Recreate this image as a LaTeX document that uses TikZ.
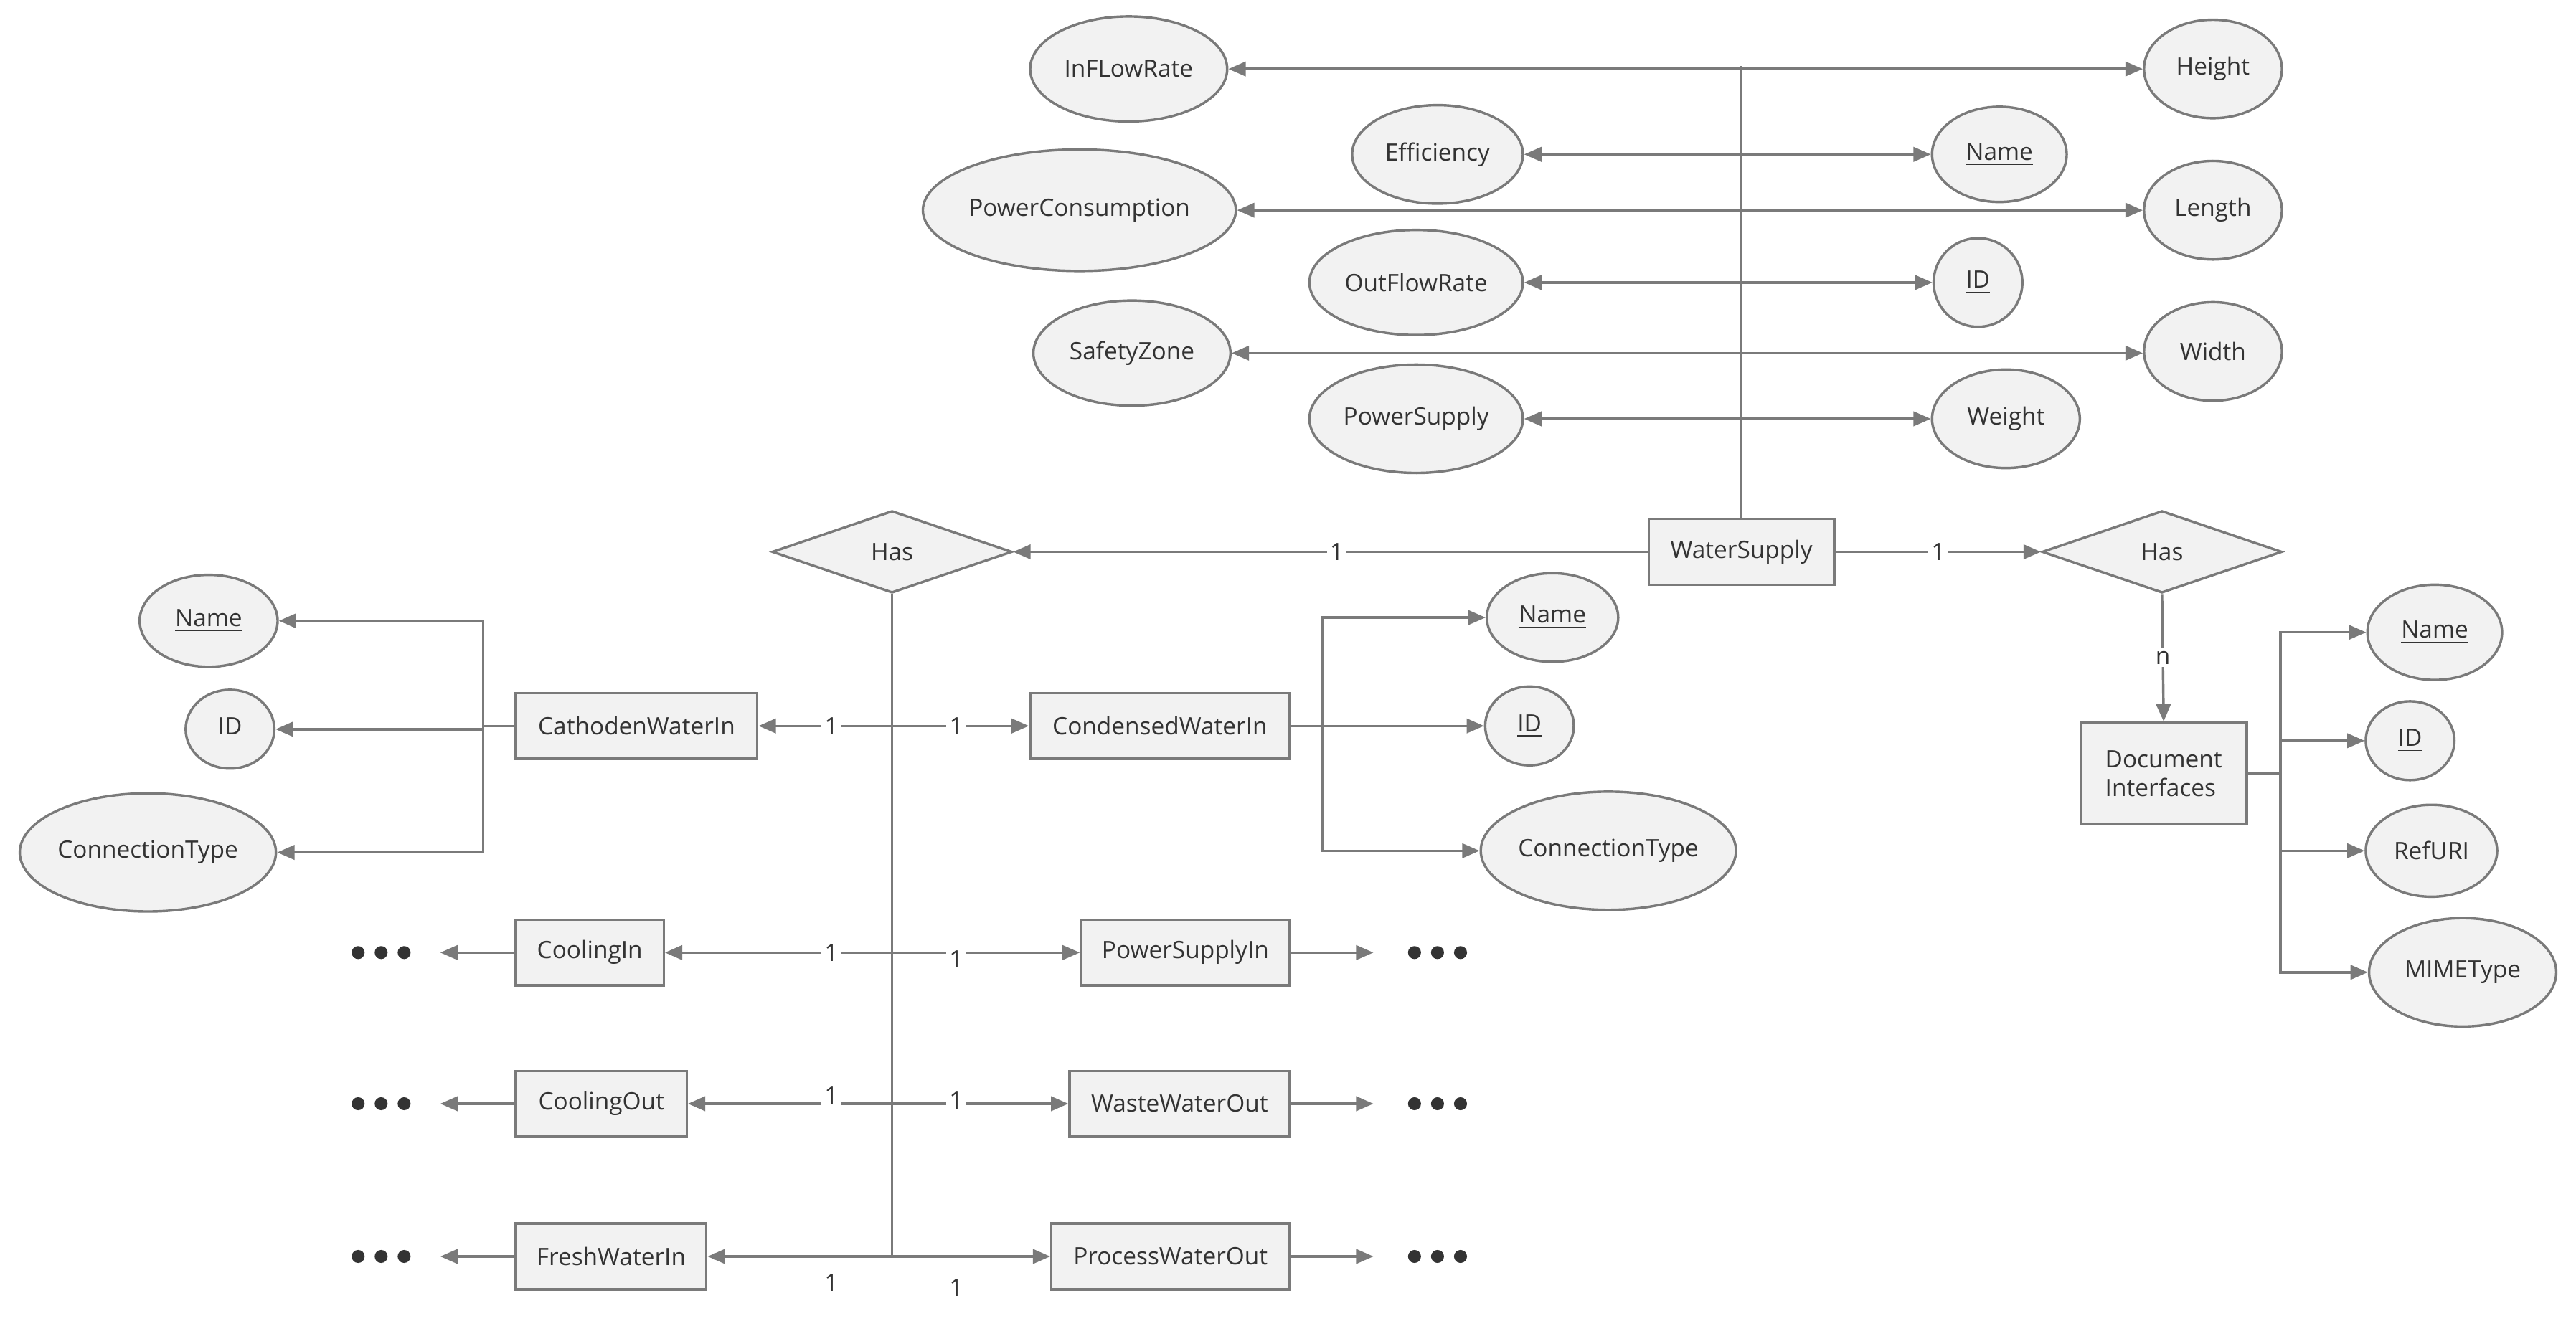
\documentclass[tikz,border=0pt]{standalone}
\usepackage{fontspec}
\setmainfont{Open Sans}
\usetikzlibrary{shapes.geometric,arrows.meta}
\definecolor{ln}{HTML}{7A7A7A}
\definecolor{fl}{HTML}{F2F2F2}
\definecolor{tx}{HTML}{333333}
\begin{document}
\begin{tikzpicture}[x=0.02cm,y=-0.02cm,
  font=\fontsize{8.3}{10}\selectfont, text=tx,
  c/.style={draw=ln,line width=0.85pt},
  >={Triangle[length=6pt,width=5pt,fill=ln]},
  ell/.style 2 args={ellipse,draw=ln,fill=fl,line width=0.85pt,inner sep=0pt,minimum width=#1*0.04cm,minimum height=#2*0.04cm},
  box/.style={rectangle,draw=ln,fill=fl,line width=0.85pt,inner sep=0pt,minimum height=0.8cm},
  dia/.style={diamond,draw=ln,fill=fl,line width=0.85pt,inner sep=0pt,aspect=2.9,minimum width=2.92cm,minimum height=1.0cm},
  lbl/.style={fill=white,inner sep=1pt},
  dot/.style={circle,fill=tx,draw=none,inner sep=0pt,minimum size=4.5pt}]
\useasboundingbox (0,0) rectangle (1568,807);
% top attributes
\node[ell={60}{32}] (infl) at (687,42) {InFLowRate};
\node[ell={52}{30}] (eff) at (875,94) {Efficiency};
\node[ell={91}{37}] (pc) at (657,128) {PowerConsumption};
\node[ell={65}{32}] (ofr) at (862,172) {OutFlowRate};
\node[ell={60}{32}] (sz) at (689,215) {SafetyZone};
\node[ell={65}{33}] (ps) at (862,255) {PowerSupply};
\node[ell={42}{30}] (hei) at (1347,42) {Height};
\node[ell={41}{29}] (nm) at (1217,94) {\underline{Name}};
\node[ell={42}{30}] (len) at (1347,128) {Length};
\node[ell={27}{27}] (id) at (1204,172) {\underline{ID}};
\node[ell={42}{30}] (wid) at (1347,214) {Width};
\node[ell={45}{30}] (wei) at (1221,255) {Weight};
% water supply
\node[box,minimum width=2.26cm] (ws) at (1060,336) {WaterSupply};
\coordinate (top) at (1060,40);
\draw[c] (ws.north) -- (top);
\draw[c,<->] (infl.east) -- (infl.east -| hei.west);
\draw[c,<->] (eff.east) -- (eff.east -| nm.west);
\draw[c,<->] (pc.east) -- (pc.east -| len.west);
\draw[c,<->] (ofr.east) -- (ofr.east -| id.west);
\draw[c,<->] (sz.east) -- (sz.east -| wid.west);
\draw[c,<->] (ps.east) -- (ps.east -| wei.west);
% has diamonds
\node[dia] (hasl) at (543,336) {Has};
\node[dia] (hasr) at (1316,336) {Has};
\draw[c,->] (ws.west) -- node[lbl,pos=0.49]{1} (hasl.east);
\draw[c,->] (ws.east) -- node[lbl,pos=0.5]{1} (hasr.west);
\node[box,minimum width=2.02cm,minimum height=1.24cm,align=left] (doc) at (1317,471) {Document\\Interfaces};
\draw[c,->] (hasr.south) -- node[lbl,pos=0.5]{n} (doc.north);
% doc attributes
\node[ell={41}{29}] (dn) at (1482,385) {\underline{Name}};
\node[ell={27}{24}] (did) at (1467,451) {\underline{ID}};
\node[ell={40}{28}] (dr) at (1480,518) {RefURI};
\node[ell={57}{33}] (dm) at (1499,592) {MIMEType};
\coordinate (db) at (1388,471);
\draw[c] (doc.east) -- (db);
\draw[c,->] (db) |- (dn.west);
\draw[c,->] (db) |- (did.west);
\draw[c,->] (db) |- (dr.west);
\draw[c,->] (db) |- (dm.west);
% left tree
\coordinate (bot) at (543,765);
\draw[c] (hasl.south) -- (bot);
\node[box,minimum width=2.94cm] (cw) at (387.5,442) {CathodenWaterIn};
\node[box,minimum width=3.16cm] (cdw) at (706,442) {CondensedWaterIn};
\node[box,minimum width=1.8cm] (ci) at (359,580) {CoolingIn};
\node[box,minimum width=2.54cm] (psi) at (721.5,580) {PowerSupplyIn};
\node[box,minimum width=2.08cm] (co) at (366,672) {CoolingOut};
\node[box,minimum width=2.68cm] (wwo) at (718,672) {WasteWaterOut};
\node[box,minimum width=2.32cm] (fwi) at (372,765) {FreshWaterIn};
\node[box,minimum width=2.9cm] (pwo) at (712.5,765) {ProcessWaterOut};
\coordinate (j1) at (543,442);
\coordinate (j2) at (543,580);
\coordinate (j3) at (543,672);
\draw[c,->] (j1) -- (cw.east); \draw[c,->] (j1) -- (cdw.west);
\draw[c,->] (j2) -- (ci.east); \draw[c,->] (j2) -- (psi.west);
\draw[c,->] (j3) -- (co.east); \draw[c,->] (j3) -- (wwo.west);
\draw[c,->] (bot) -- (fwi.east); \draw[c,->] (bot) -- (pwo.west);
\node[lbl] at (506,442) {1}; \node[lbl] at (582,442) {1};
\node[lbl] at (506,580) {1}; \node[lbl] at (582,584) {1};
\node[lbl] at (506,667) {1}; \node[lbl] at (582,670) {1};
\node at (506,781) {1}; \node at (582,784) {1};
% cathoden attrs
\node[ell={42}{28}] (cn) at (127,378) {\underline{Name}};
\node[ell={27}{24}] (cid) at (140,444) {\underline{ID}};
\node[ell={78}{36}] (cct) at (90,519) {ConnectionType};
\coordinate (cb) at (294,442);
\draw[c] (cw.west) -- (cb);
\draw[c,->] (cb) |- (cn.east);
\draw[c,->] (cb) |- (cid.east);
\draw[c,->] (cb) |- (cct.east);
% condensed attrs
\node[ell={40}{27}] (kn) at (945,376) {\underline{Name}};
\node[ell={27}{24}] (kid) at (931,442) {\underline{ID}};
\node[ell={77}{36}] (kct) at (979,518) {ConnectionType};
\coordinate (kb) at (805,442);
\draw[c] (cdw.east) -- (kb);
\draw[c,->] (kb) |- (kn.west);
\draw[c,->] (kb) |- (kid.west);
\draw[c,->] (kb) |- (kct.west);
% dots
\foreach \y/\n in {580/a,672/b,765/c}{
  \node[dot] at (218,\y) {}; \node[dot] at (232,\y) {}; \node[dot] (l\n) at (246,\y) {};
  \node[dot] (r\n) at (861,\y) {}; \node[dot] at (875,\y) {}; \node[dot] at (889,\y) {};
  \coordinate (lt\n) at (268,\y); \coordinate (rt\n) at (836,\y);
}
\draw[c,->] (ci.west) -- (lta); \draw[c,->] (psi.east) -- (rta);
\draw[c,->] (co.west) -- (ltb); \draw[c,->] (wwo.east) -- (rtb);
\draw[c,->] (fwi.west) -- (ltc); \draw[c,->] (pwo.east) -- (rtc);
\end{tikzpicture}
\end{document}
